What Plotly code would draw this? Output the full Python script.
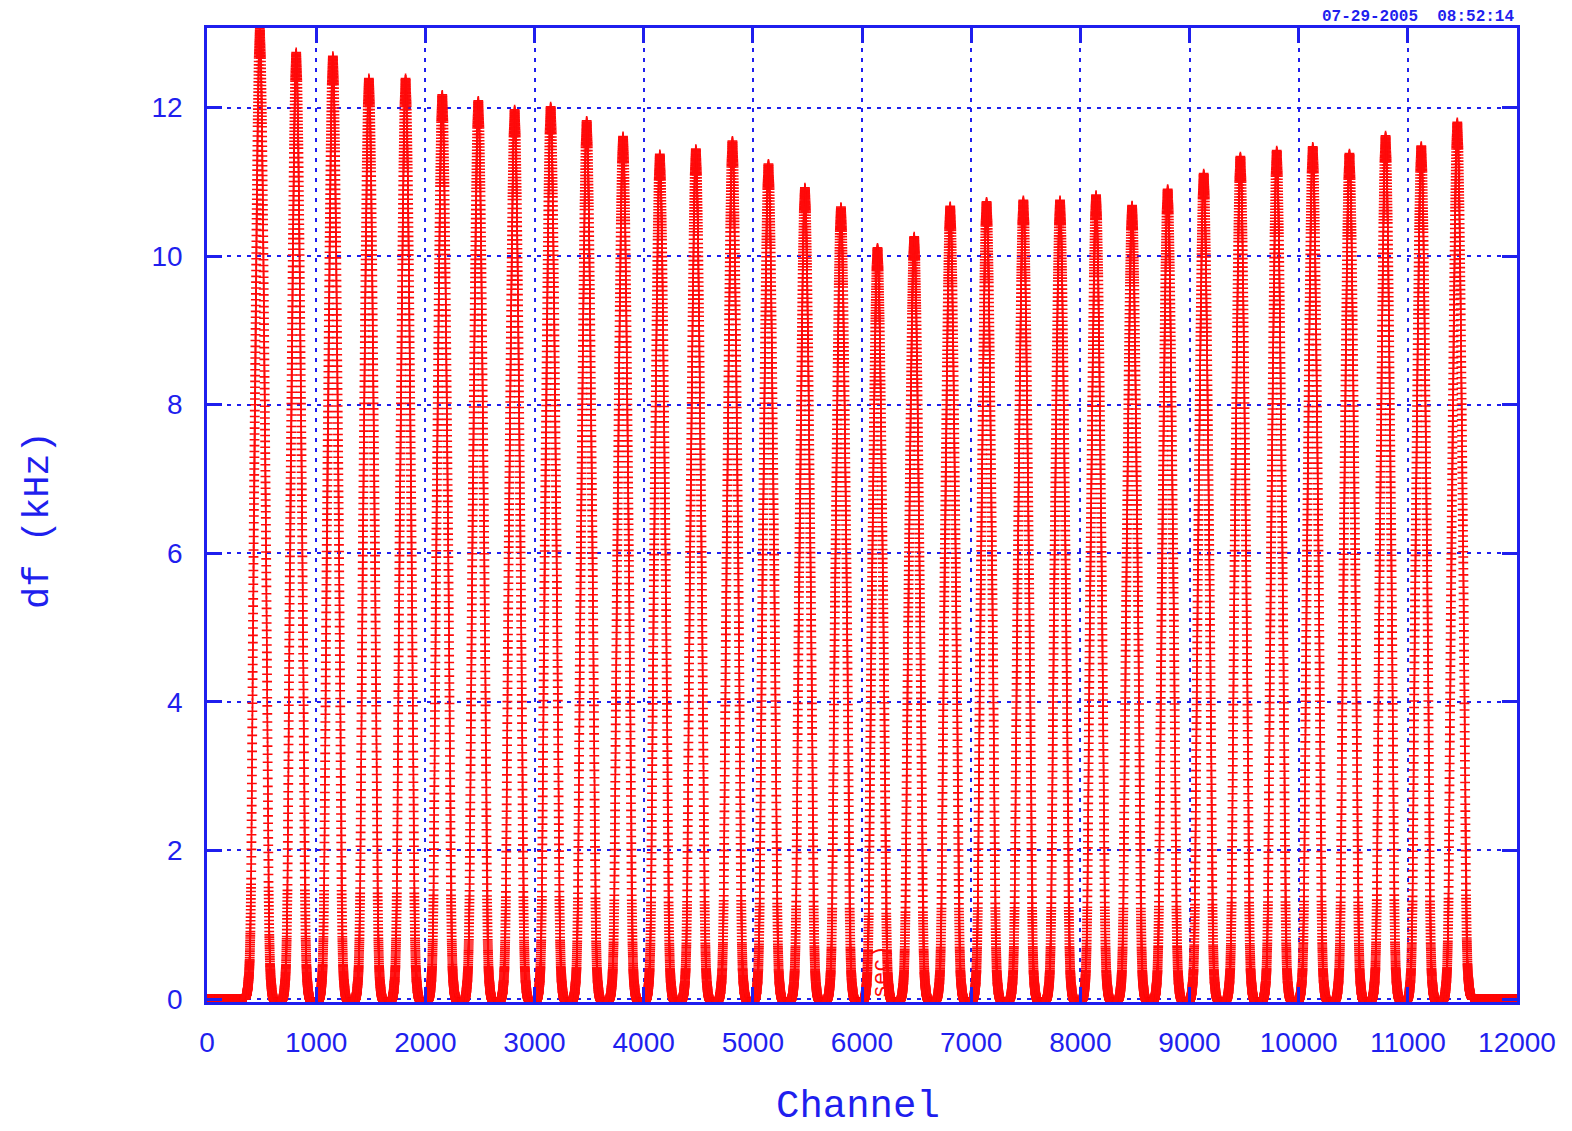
import numpy as np
import plotly.graph_objects as go

# Peak channels and peak heights (kHz) of each resonance lobe
peak_channel = [484, 817, 1153, 1483, 1819, 2155, 2485, 2818, 3148, 3478,
                3811, 4148, 4478, 4813, 5143, 5477, 5807, 6142, 6478, 6808,
                7141, 7478, 7814, 8144, 8474, 8800, 9130, 9466, 9799, 10129,
                10465, 10796, 11123, 11453]
peak_khz = [13.06, 12.74, 12.69, 12.39, 12.39, 12.17, 12.09, 11.97, 12.01, 11.82,
            11.61, 11.37, 11.44, 11.55, 11.24, 10.92, 10.66, 10.11, 10.26, 10.67,
            10.73, 10.75, 10.75, 10.82, 10.68, 10.90, 11.11, 11.34, 11.42, 11.47,
            11.38, 11.62, 11.48, 11.80]

# Lobe profile: distance from the peak (fraction of one period) -> fraction of peak height
profile_offset = [0.00, 0.03, 0.06, 0.09, 0.12, 0.15, 0.165, 0.18, 0.20, 0.22,
                  0.24, 0.26, 0.28, 0.30, 0.33, 0.36, 0.40, 0.45, 0.50]
profile_frac = [1.000, 0.970, 0.900, 0.800, 0.680, 0.560, 0.500, 0.430, 0.330, 0.220,
                0.120, 0.070, 0.040, 0.025, 0.012, 0.005, 0.001, 0.0, 0.0]
trough_khz = -0.05      # level of the dips between lobes
channel_step = 0.5
channel_max = 12000

pk = np.array(peak_channel, dtype=float)
hk = np.array(peak_khz, dtype=float)
period = np.diff(pk).mean()

ch = np.arange(0, channel_max + channel_step, channel_step)
idx = np.abs(ch[:, None] - pk[None, :]).argmin(axis=1)
d = np.abs(ch - pk[idx]) / period
frac = np.interp(d, profile_offset, profile_frac, right=0.0)
inner = (ch > pk[0]) & (ch < pk[-1])
base = np.where(inner, trough_khz, 0.0)
df = hk[idx] * frac + base * (1 - frac)

blue = "#1f1fee"
red = "#ff0a0a"

fig = go.Figure()
fig.add_trace(go.Scatter(
    x=ch, y=df, mode="lines+markers",
    line=dict(color=red, width=1.3),
    marker=dict(symbol="cross-thin", size=7, color=red,
                line=dict(color=red, width=1.6)),
    hoverinfo="skip", showlegend=False,
))

tick_font = dict(family="Liberation Sans, Arial", size=28, color=blue)
axis_common = dict(
    showline=True, linecolor=blue, linewidth=2.5, mirror="ticks",
    ticks="inside", ticklen=15, tickwidth=2.5, tickcolor=blue,
    showgrid=True, gridcolor=blue, gridwidth=2.2, griddash="4px,6px",
    zeroline=False, tickfont=tick_font,
)

fig.update_xaxes(range=[0, 12000], dtick=1000, tick0=0, tickformat=".0f",
                 ticklabelstandoff=14, **axis_common)
fig.update_yaxes(range=[-0.04, 13.07], dtick=2, tick0=0,
                 ticklabelstandoff=16, **axis_common)

mono = "Liberation Mono, DejaVu Sans Mono, monospace"
fig.add_annotation(text="Channel", xref="paper", yref="paper",
                   x=0.497, y=-0.108, xanchor="center", yanchor="middle",
                   showarrow=False, font=dict(family=mono, size=39, color=blue))
fig.add_annotation(text="df (kHz)", xref="paper", yref="paper",
                   x=-0.129, y=0.495, xanchor="center", yanchor="middle",
                   textangle=-90, showarrow=False,
                   font=dict(family=mono, size=37, color=blue))
fig.add_annotation(text="<b>07-29-2005  08:52:14</b>", xref="paper", yref="paper",
                   x=0.9992, y=1.0113, xanchor="right", yanchor="middle",
                   showarrow=False, font=dict(family=mono, size=16, color=blue))
fig.add_annotation(text="sec)", xref="x", yref="y",
                   x=6180, y=0.37, xanchor="center", yanchor="middle",
                   textangle=-90, showarrow=False,
                   font=dict(family=mono, size=22, color=red))

fig.update_layout(
    width=1572, height=1131,
    margin=dict(l=207, r=55, t=28, b=129),
    paper_bgcolor="white", plot_bgcolor="white",
)

fig.write_html("out.html")
